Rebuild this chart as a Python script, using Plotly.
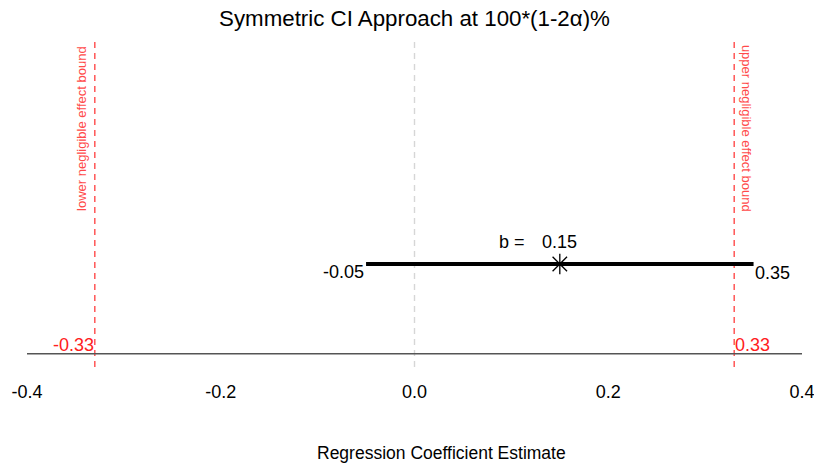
import plotly.graph_objects as go

# --- data ---
b_est = 0.15
ci_lower = -0.05
ci_upper = 0.35
neg_lower = -0.33
neg_upper = 0.33
x_ticks = [-0.4, -0.2, 0.0, 0.2, 0.4]
tick_text = ["-0.4", "-0.2", "0.0", "0.2", "0.4"]
y_ci = 0.312
y_base = 0.04
y_bound_label = 0.724
y_bound_text = 0.067

FONT = "Liberation Sans, Arial, sans-serif"

fig = go.Figure()

# baseline
fig.add_trace(go.Scatter(x=[x_ticks[0], x_ticks[-1] + 0.001], y=[y_base, y_base], mode="lines",
                         line=dict(color="#555555", width=1.6), hoverinfo="skip"))
# CI line
fig.add_trace(go.Scatter(x=[ci_lower, ci_upper], y=[y_ci, y_ci], mode="lines",
                         line=dict(color="black", width=4), hoverinfo="skip"))
# point estimate
fig.add_trace(go.Scatter(x=[b_est], y=[y_ci], mode="markers",
                         marker=dict(symbol="asterisk-open", size=17, color="black",
                                     line=dict(color="black", width=1.3)), hoverinfo="skip"))

# vertical dashed lines
for xv, col in [(neg_lower, "#ff4a4a"), (neg_upper, "#ff4a4a"), (0.0, "#d6d6d6")]:
    fig.add_shape(type="line", xref="x", yref="y", x0=xv, x1=xv, y0=0, y1=1,
                  line=dict(color=col, width=1.4, dash="6px,5px"), layer="below")

ann = []
ann.append(dict(x=ci_lower, y=y_ci, text=f"{ci_lower:.2f}", xanchor="right", yanchor="middle",
                yshift=-8, xshift=0, showarrow=False, font=dict(size=18, color="black", family=FONT)))
ann.append(dict(x=ci_upper, y=y_ci, text=f"{ci_upper:.2f}", xanchor="left", yanchor="middle",
                yshift=-9, xshift=-1, showarrow=False, font=dict(size=18, color="black", family=FONT)))
ann.append(dict(x=b_est, y=y_ci, text=f"{b_est:.2f}", xanchor="center", yanchor="middle",
                yshift=22, showarrow=False, font=dict(size=18, color="black", family=FONT)))
ann.append(dict(x=b_est, y=y_ci, text="b =", xanchor="right", yanchor="middle",
                yshift=22, xshift=-33, showarrow=False, font=dict(size=18, color="black", family=FONT)))
ann.append(dict(x=neg_lower, y=y_bound_text, text=f"{neg_lower:.2f}", xanchor="right", yanchor="middle",
                xshift=1, showarrow=False, font=dict(size=18, color="#ff2020", family=FONT)))
ann.append(dict(x=neg_upper, y=y_bound_text, text=f"{neg_upper:.2f}", xanchor="left", yanchor="middle",
                xshift=-1, showarrow=False, font=dict(size=18, color="#ff2020", family=FONT)))
ann.append(dict(x=neg_lower, y=y_bound_label, text="lower negligible effect bound", textangle=-90,
                xanchor="center", yanchor="middle", xshift=-14, showarrow=False,
                font=dict(size=13, color="#ff4a4a", family=FONT)))
ann.append(dict(x=neg_upper, y=y_bound_label, text="upper negligible effect bound", textangle=90,
                xanchor="center", yanchor="middle", xshift=13, showarrow=False,
                font=dict(size=13, color="#ff4a4a", family=FONT)))
# x-axis title (placed as in the reference, slightly right of centre)
ann.append(dict(x=0.535, y=-(453 - 367) / 330, xref="paper", yref="paper",
                text="Regression Coefficient Estimate", xanchor="center", yanchor="middle",
                showarrow=False, font=dict(size=17.5, color="black", family=FONT)))

fig.update_layout(
    width=814, height=463,
    margin=dict(l=27, r=12, t=37, b=96, autoexpand=False),
    plot_bgcolor="white", paper_bgcolor="white",
    showlegend=False,
    title=dict(text="Symmetric CI Approach at 100*(1-2α)%", x=0.5, xanchor="center",
               y=1 - 18 / 463, yanchor="middle", xref="paper",
               font=dict(size=22.3, color="black", family=FONT)),
    annotations=ann,
    xaxis=dict(range=[-0.4, 0.4], tickvals=x_ticks, ticktext=tick_text, showgrid=False,
               zeroline=False, showline=False, ticks="", ticklabelstandoff=12, automargin=False,
               ticklabeloverflow="allow",
               tickfont=dict(size=18, color="black", family=FONT)),
    yaxis=dict(range=[0, 1], visible=False, showgrid=False, zeroline=False, automargin=False),
)

fig.write_html("out.html")
